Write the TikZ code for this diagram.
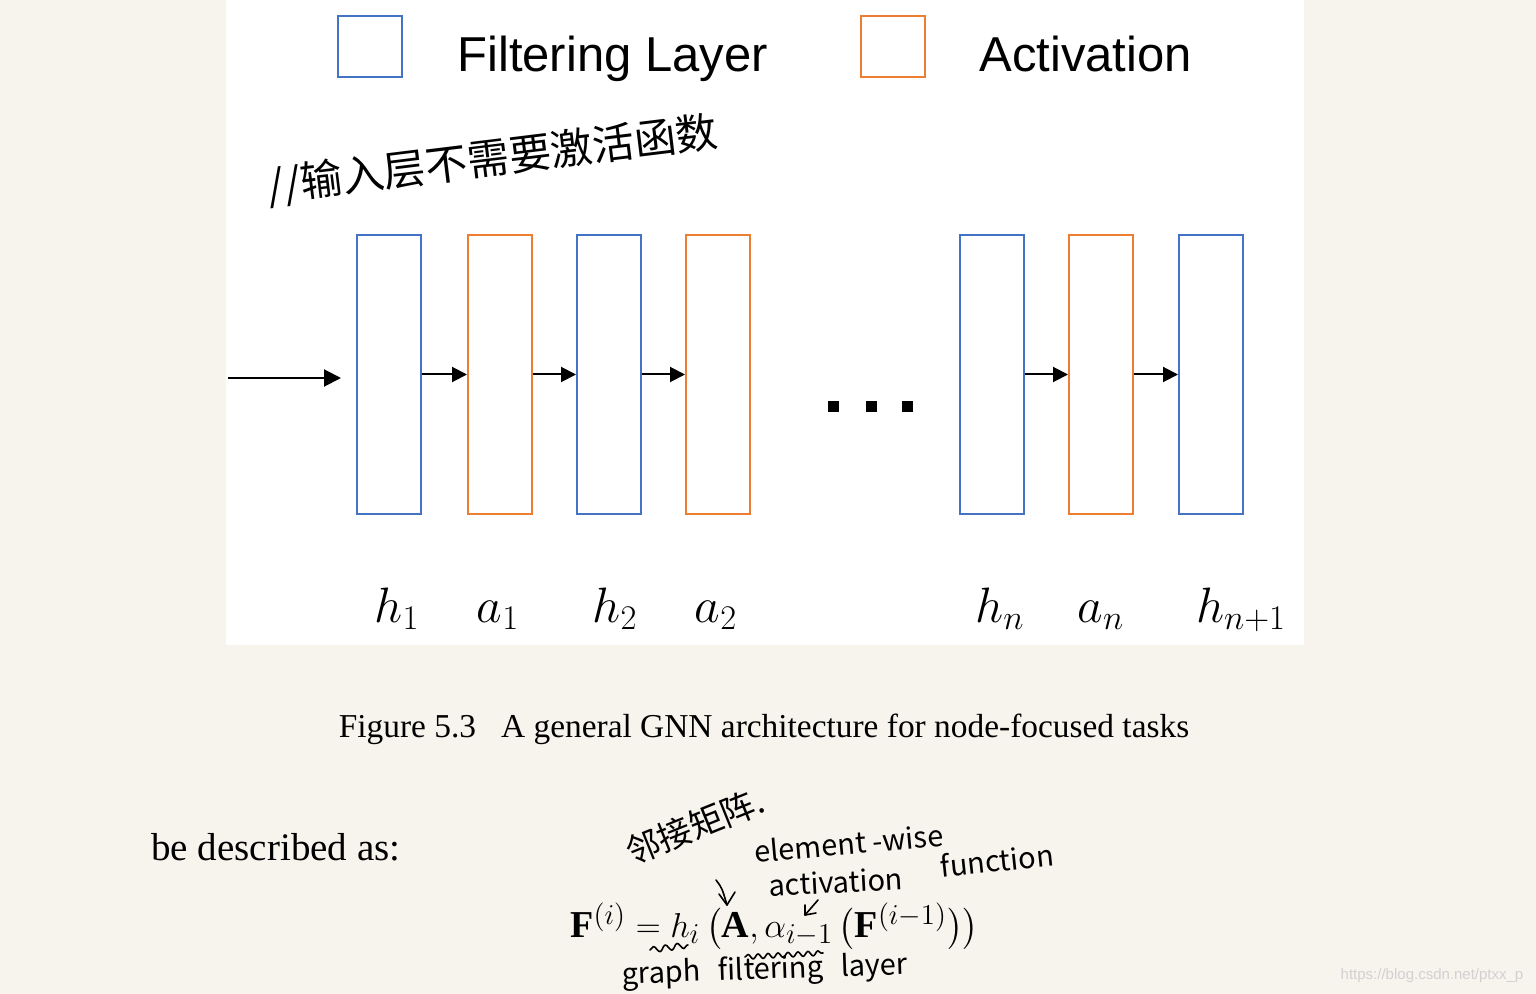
\documentclass[tikz,border=0pt]{standalone}
\usepackage{amsmath}
\usepackage{fontspec}
\setmainfont{Liberation Serif}
\newfontfamily\legendfont{Liberation Sans}
\newfontfamily\handfont{Noto Sans CJK SC}
\usetikzlibrary{positioning}
\usetikzlibrary{arrows.meta}
\usetikzlibrary{decorations.pathmorphing}
\definecolor{paper}{RGB}{247,244,238}
\definecolor{fblue}{RGB}{68,114,196}
\definecolor{forange}{RGB}{237,125,49}

\begin{document}
\begin{tikzpicture}[x=0.5pt,y=-0.5pt,
    layer/.style={draw=#1,line width=1pt,fill=white,minimum width=32pt,minimum height=139.5pt,inner sep=0pt},
    flow/.style={-{Triangle[length=7.5pt,width=7.5pt]},line width=1pt},
    lbl/.style={anchor=base,inner sep=0pt,font=\fontsize{26}{30}\selectfont},
    hand/.style={inner sep=0pt,font=\handfont\fontsize{14.5}{17}\selectfont},
    ink/.style={line width=0.8pt,line cap=round,line join=round}]
    \useasboundingbox (0,0) rectangle (1536,994);
    % Page and figure panel
    \fill[paper] (0,0) rectangle (1536,994);
    \fill[white] (226,0) rectangle (1304,645);

    % Legend
    \node[layer=fblue,minimum height=30.5pt] (keyf) at (370,46.5) {};
    \node[anchor=base west,inner sep=0pt,font=\legendfont\fontsize{24.5}{28}\selectfont] (keyftxt) at (457,72) {Filtering Layer};
    \node[layer=forange,minimum height=30.5pt] (keya) at (893,46.5) {};
    \node[anchor=base west,inner sep=0pt,font=\legendfont\fontsize{24.5}{28}\selectfont] (keyatxt) at (979,72) {Activation};

    % Note on the input layer
    \node[inner sep=0pt,rotate=7,font=\handfont\fontsize{21}{24}\selectfont] (note) at (493,160) {//输入层不需要激活函数};

    % Layers
    \foreach \name/\x/\col in {h1/389/fblue,a1/500/forange,h2/609/fblue,a2/718/forange,hn/992/fblue,an/1101/forange,hm/1211/fblue} {
        \node[layer=\col] (\name) at (\x,374.5) {};
    }

    % Connections
    \coordinate (in) at (228,378);
    \draw[flow,-{Triangle[length=8.5pt,width=8.5pt]},shorten >=7.5pt] (in) -- (h1.west|-in);
    \foreach \a/\b in {h1/a1,a1/h2,h2/a2,hn/an,an/hm} {
        \draw[flow] (\a.east) -- (\b.west);
    }

    % Dots
    \foreach \x in {833,871,907} {
        \fill (\x-5.5,401.5) rectangle ++(11,11);
    }

    % Labels
    \node[lbl] (lh1) at (397,622) {$h_1$};
    \node[lbl] (la1) at (498,622) {$a_1$};
    \node[lbl] (lh2) at (615,622) {$h_2$};
    \node[lbl] (la2) at (716,622) {$a_2$};
    \node[lbl] (lhn) at (1000,622) {$h_n$};
    \node[lbl] (lan) at (1101,622) {$a_n$};
    \node[lbl] (lhm) at (1241,622) {$h_{n+1}$};

    % Caption and text
    \node[anchor=base,inner sep=0pt,font=\fontsize{16.7}{20}\selectfont] (cap) at (764,737) {Figure 5.3\hspace{0.5em} A general GNN architecture for node-focused tasks};
    \node[anchor=base west,inner sep=0pt,font=\fontsize{19.5}{23}\selectfont] (intro) at (151,860) {be described as:};
    \node[anchor=base west,inner sep=0pt,font=\fontsize{19}{23}\selectfont] (eq) at (570,937)
        {$\mathbf{F}^{(i)} = h_i\,\bigl(\mathbf{A}, \alpha_{i-1}\,\bigl(\mathbf{F}^{(i-1)}\bigr)\bigr)$};

    % Handwritten notes on the equation
    \node[hand,rotate=22,font=\handfont\fontsize{17}{20}\selectfont] (adj) at (695,826) {邻接矩阵.};
    \node[hand,rotate=5] (elem) at (849,843) {element -wise};
    \node[hand,rotate=3] (actv) at (836,882) {activation};
    \node[hand,rotate=6] (func) at (997,860) {function};
    \node[hand,rotate=2] (flayer) at (765,971) {graph\hspace{0.6em}filtering\hspace{0.6em}layer};
    \coordinate (toA) at (727,905);
    \coordinate (toal) at (805,915);
    \draw[ink] (716,880) .. controls (722,888) .. (toA);
    \draw[ink] (719,894) -- (toA) -- (735,892);
    \draw[ink] (818,900) -- (toal);
    \draw[ink] (805,905) -- (toal) -- (816,913);
    \draw[ink,decorate,decoration={snake,amplitude=1.5pt,segment length=6pt}] (650,950) -- (688,945);
    \draw[ink,decorate,decoration={snake,amplitude=1.2pt,segment length=5pt}] (745,957) -- (823,953);

    % Watermark
    \node[inner sep=0pt,text=black!18,font=\legendfont\fontsize{7.5}{9}\selectfont] (mark) at (1432,976) {https://blog.csdn.net/ptxx\_p};
\end{tikzpicture}
\end{document}
